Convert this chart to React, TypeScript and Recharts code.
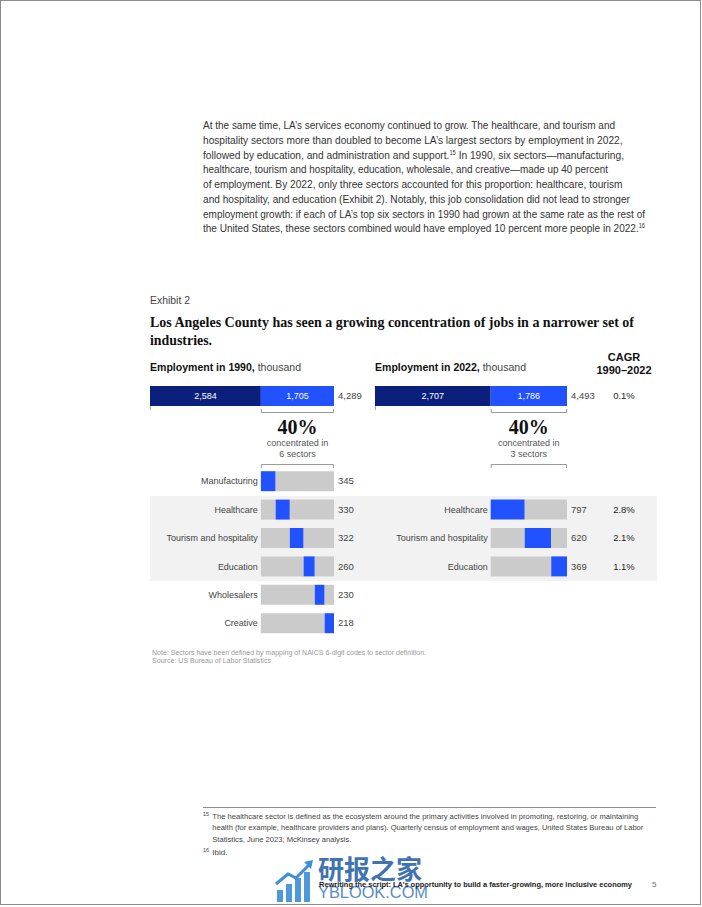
import React from 'react';
import { BarChart, Bar, XAxis, YAxis, LabelList, Cell } from 'recharts';

// ---------- data ----------
const sectors1990 = ['Manufacturing', 'Healthcare', 'Tourism and hospitality', 'Education', 'Wholesalers', 'Creative'];
const values1990 = [345, 330, 322, 260, 230, 218];
const rest1990 = 2584;
const top1990 = 1705;
const total1990 = 4289;

const sectors2022 = ['Healthcare', 'Tourism and hospitality', 'Education'];
const values2022 = [797, 620, 369];
const rest2022 = 2707;
const top2022 = 1786;
const total2022 = 4493;

const cagrTotal = '0.1%';
const cagr2022 = ['2.8%', '2.1%', '1.1%'];

const sharePct = '40%';
const sectorsCount1990 = '6 sectors';
const sectorsCount2022 = '3 sectors';

// ---------- style ----------
const SANS = '"Liberation Sans", Arial, sans-serif';
const SERIF = '"Liberation Serif", "Times New Roman", serif';
const NAVY = '#0b1f7d';
const BLUE = '#2251ff';
const GRAY = '#cbcbcb';
const BAND = '#f2f2f2';
const ROW_H = 28.4;
const CHART_TOP = 396 - ROW_H / 2;
const LEFT_X = 150;
const LEFT_W = 184;
const RIGHT_X = 375;
const RIGHT_W = 192;

const fmt = (n: number) => n.toLocaleString('en-US');

type Row = {
  k: string;
  name?: string;
  base: number;
  pre: number;
  val: number;
  post: number;
  baseLabel?: string;
  valLabel?: string;
  endLabel?: string;
  cagr?: string;
  total?: boolean;
};

function buildRows(
  rest: number,
  top: number,
  total: number,
  names: string[],
  values: number[],
  slots: (number | 'T' | null)[],
  cagrT?: string,
  cagrs?: string[]
): Row[] {
  const cum: number[] = [];
  let c = 0;
  values.forEach((v) => {
    cum.push(c);
    c += v;
  });
  return slots.map((s, i) => {
    if (s === 'T') {
      return {
        k: 'r' + i, base: rest, pre: 0, val: top, post: 0,
        baseLabel: fmt(rest), valLabel: fmt(top), endLabel: fmt(total), cagr: cagrT, total: true,
      };
    }
    if (s === null) return { k: 'r' + i, base: 0, pre: 0, val: 0, post: 0 };
    return {
      k: 'r' + i, name: names[s], base: rest, pre: cum[s], val: values[s],
      post: top - cum[s] - values[s], endLabel: String(values[s]), cagr: cagrs ? cagrs[s] : undefined,
    };
  });
}

const rows1990 = buildRows(rest1990, top1990, total1990, sectors1990, values1990, ['T', null, null, 0, 1, 2, 3, 4, 5]);
const rows2022 = buildRows(rest2022, top2022, total2022, sectors2022, values2022, ['T', null, null, null, 0, 1, 2, null, null], cagrTotal, cagr2022);

// the end label sits on the last non-empty segment of each row
const endOnVal = (d: Row) => (d.post === 0 && d.endLabel ? d.endLabel : '');
const endOnPost = (d: Row) => (d.post > 0 && d.endLabel ? d.endLabel : '');
const cagrOnVal = (d: Row) => (d.post === 0 && d.cagr ? d.cagr : '');
const cagrOnPost = (d: Row) => (d.post > 0 && d.cagr ? d.cagr : '');

// ---------- label renderers ----------
const num = (v: any) => Number(v) || 0;
const inBar = (p: any) => {
  if (!p.value) return null;
  return (
    <text x={num(p.x) + num(p.width) / 2} y={num(p.y) + num(p.height) / 2 + 3.2} textAnchor="middle" fill="#fff" fontSize={9} fontFamily={SANS}>
      {p.value}
    </text>
  );
};
const nameLabel = (p: any) => {
  if (!p.value) return null;
  return (
    <text x={num(p.x) + num(p.width) - 3} y={num(p.y) + num(p.height) / 2 + 3.2} textAnchor="end" fill="#444" fontSize={9} fontFamily={SANS}>
      {p.value}
    </text>
  );
};
const endLabel = (p: any) => {
  if (!p.value) return null;
  return (
    <text x={num(p.x) + num(p.width) + 4} y={num(p.y) + num(p.height) / 2 + 3.3} textAnchor="start" fill="#444" fontSize={9.5} fontFamily={SANS}>
      {p.value}
    </text>
  );
};
const cagrLabel = (p: any) => {
  if (!p.value) return null;
  return (
    <text x={num(p.x) + num(p.width) + 57} y={num(p.y) + num(p.height) / 2 + 3.3} textAnchor="middle" fill="#222" fontSize={9.5} fontFamily={SANS}>
      {p.value}
    </text>
  );
};

function Panel({ rows, total, plotW, rightPad }: { rows: Row[]; total: number; plotW: number; rightPad: number }) {
  return (
    <BarChart
      width={plotW + rightPad}
      height={ROW_H * rows.length}
      data={rows}
      layout="vertical"
      margin={{ top: 0, right: rightPad, bottom: 0, left: 0 }}
      barSize={20}
      barCategoryGap={0}
    >
      <XAxis type="number" domain={[0, total]} hide />
      <YAxis type="category" dataKey="k" hide />
      <Bar dataKey="base" stackId="s" isAnimationActive={false}>
        {rows.map((r, i) => (
          <Cell key={i} fill={r.total ? NAVY : 'rgba(0,0,0,0)'} />
        ))}
        <LabelList dataKey="baseLabel" content={inBar} />
        <LabelList dataKey="name" content={nameLabel} />
      </Bar>
      <Bar dataKey="pre" stackId="s" fill={GRAY} isAnimationActive={false} />
      <Bar dataKey="val" stackId="s" fill={BLUE} isAnimationActive={false}>
        <LabelList dataKey="valLabel" content={inBar} />
        <LabelList dataKey={endOnVal as any} content={endLabel} />
        <LabelList dataKey={cagrOnVal as any} content={cagrLabel} />
      </Bar>
      <Bar dataKey="post" stackId="s" fill={GRAY} isAnimationActive={false}>
        <LabelList dataKey={endOnPost as any} content={endLabel} />
        <LabelList dataKey={cagrOnPost as any} content={cagrLabel} />
      </Bar>
    </BarChart>
  );
}

// ---------- text helper ----------
const T = ({ x, y, size, children, fill = '#333', weight = 400, anchor = 'start', len, family = SANS }: any) => (
  <text
    x={x}
    y={y + size * 0.35}
    fontSize={size}
    fill={fill}
    fontWeight={weight}
    textAnchor={anchor}
    fontFamily={family}
    {...(len ? { textLength: len, lengthAdjust: 'spacingAndGlyphs' } : {})}
  >
    {children}
  </text>
);

const Sup = ({ t, size = 6.5 }: any) => (
  <tspan dy={-4} fontSize={size}>{t}</tspan>
);

export default function App() {
  const xs1 = LEFT_X + (rest1990 / total1990) * LEFT_W;
  const xe1 = LEFT_X + LEFT_W;
  const xs2 = RIGHT_X + (rest2022 / total2022) * RIGHT_W;
  const xe2 = RIGHT_X + RIGHT_W;
  const c1 = (xs1 + xe1) / 2;
  const c2 = (xs2 + xe2) / 2;
  const py = [125, 139.8, 154.5, 169.3, 184, 198.8, 213.5, 228.3];
  return (
    <div style={{ position: 'absolute', left: 0, top: 0, width: 702, height: 907, background: '#fff', overflow: 'hidden' }}>
      <div style={{ position: 'absolute', left: 0, top: 0, width: 701, height: 905, boxSizing: 'border-box', border: '1px solid #8c8c8c' }} />
      {/* highlighted band */}
      <div style={{ position: 'absolute', left: 150, top: 496, width: 507, height: 85, background: BAND }} />

      <svg width={702} height={907} style={{ position: 'absolute', left: 0, top: 0 }}>
        {/* paragraph */}
        <T x={203} y={py[0]} size={11.5} len={412}>At the same time, LA’s services economy continued to grow. The healthcare, and tourism and</T>
        <T x={203} y={py[1]} size={11.5} len={419.5}>hospitality sectors more than doubled to become LA’s largest sectors by employment in 2022,</T>
        <T x={203} y={py[2]} size={11.5} len={421}>
          followed by education, and administration and support.<Sup t="15" /><tspan dy={4}> In 1990, six sectors—manufacturing,</tspan>
        </T>
        <T x={203} y={py[3]} size={11.5} len={405}>healthcare, tourism and hospitality, education, wholesale, and creative—made up 40 percent</T>
        <T x={203} y={py[4]} size={11.5} len={419.5}>of employment. By 2022, only three sectors accounted for this proportion: healthcare, tourism</T>
        <T x={203} y={py[5]} size={11.5} len={427}>and hospitality, and education (Exhibit 2). Notably, this job consolidation did not lead to stronger</T>
        <T x={203} y={py[6]} size={11.5} len={442}>employment growth: if each of LA’s top six sectors in 1990 had grown at the same rate as the rest of</T>
        <T x={203} y={py[7]} size={11.5} len={442}>
          the United States, these sectors combined would have employed 10 percent more people in 2022.<Sup t="16" />
        </T>

        {/* exhibit title */}
        <T x={150} y={300} size={10} fill="#444" len={40}>Exhibit 2</T>
        <T x={150} y={322} size={15.5} fill="#111" weight={700} family={SERIF} len={484}>Los Angeles County has seen a growing concentration of jobs in a narrower set of</T>
        <T x={150} y={340} size={15.5} fill="#111" weight={700} family={SERIF} len={62}>industries.</T>

        {/* column headers */}
        <T x={150} y={367} size={10.5} fill="#111" len={151}>
          <tspan fontWeight={700}>Employment in 1990,</tspan><tspan fill="#444"> thousand</tspan>
        </T>
        <T x={375} y={367} size={10.5} fill="#111" len={151}>
          <tspan fontWeight={700}>Employment in 2022,</tspan><tspan fill="#444"> thousand</tspan>
        </T>
        <T x={624} y={357} size={11} fill="#111" weight={700} anchor="middle">CAGR</T>
        <T x={624} y={370} size={11} fill="#111" weight={700} anchor="middle">1990–2022</T>

        {/* small start ticks */}
        <line x1={LEFT_X + 0.5} x2={LEFT_X + 0.5} y1={406} y2={410} stroke="#aaa" />
        <line x1={RIGHT_X + 0.5} x2={RIGHT_X + 0.5} y1={406} y2={410} stroke="#aaa" />

        {/* brackets */}
        {[
          [xs1, xe1],
          [xs2, xe2],
        ].map(([a, b], i) => (
          <g key={i} stroke="#9a9a9a" strokeWidth={1} fill="none">
            <polyline points={`${a + 0.5},409 ${a + 0.5},412.5 ${b - 0.5},412.5 ${b - 0.5},409`} />
            <polyline points={`${a + 0.5},468 ${a + 0.5},464.5 ${b - 0.5},464.5 ${b - 0.5},468`} />
          </g>
        ))}
        <T x={c1} y={427} size={20} fill="#111" weight={700} family={SERIF} anchor="middle">{sharePct}</T>
        <T x={c1} y={442.5} size={9} fill="#555" anchor="middle">concentrated in</T>
        <T x={c1} y={453.5} size={9} fill="#555" anchor="middle">{sectorsCount1990}</T>
        <T x={c2} y={427} size={20} fill="#111" weight={700} family={SERIF} anchor="middle">{sharePct}</T>
        <T x={c2} y={442.5} size={9} fill="#555" anchor="middle">concentrated in</T>
        <T x={c2} y={453.5} size={9} fill="#555" anchor="middle">{sectorsCount2022}</T>

        {/* notes */}
        <T x={152} y={652.3} size={7} fill="#9a9a9a" len={274}>Note: Sectors have been defined by mapping of NAICS 6-digit codes to sector definition.</T>
        <T x={152} y={660.5} size={7} fill="#9a9a9a" len={119}>Source: US Bureau of Labor Statistics</T>

        {/* footnotes */}
        <line x1={203} x2={656} y1={807.5} y2={807.5} stroke="#8c8c8c" strokeWidth={1} />
        <T x={203} y={814} size={5.5} fill="#444">15</T>
        <T x={212.3} y={816} size={8} fill="#444" len={426}>The healthcare sector is defined as the ecosystem around the primary activities involved in promoting, restoring, or maintaining</T>
        <T x={212.3} y={827.5} size={8} fill="#444" len={431}>health (for example, healthcare providers and plans). Quarterly census of employment and wages, United States Bureau of Labor</T>
        <T x={212.3} y={839} size={8} fill="#444" len={139}>Statistics, June 2023; McKinsey analysis.</T>
        <T x={203} y={850} size={5.5} fill="#444">16</T>
        <T x={212.3} y={852} size={8} fill="#444">Ibid.</T>

        {/* watermark */}
        <g fill="#3d8fd6" opacity={0.9}>
          <rect x={277} y={890} width={6} height={12} />
          <rect x={286} y={884} width={6} height={18} />
          <rect x={295} y={878} width={6} height={24} />
          <rect x={304} y={872} width={6} height={30} />
        </g>
        <polyline points="276,884 288,874 296,878 311,863" stroke="#3d8fd6" strokeWidth={3} fill="none" />
        <polygon points="313,860 304,862 311,869" fill="#3d8fd6" />
        <text x={318} y={879} fontSize={26} fill="#2c64a8" fontWeight={700} fontFamily='"Noto Sans CJK SC", sans-serif' opacity={0.9}>研报之家</text>
        <text x={318} y={898} fontSize={17} fill="#3a78bd" fontFamily={SANS} opacity={0.85} textLength={110} lengthAdjust="spacingAndGlyphs">YBLOOK.COM</text>

        {/* footer */}
        <T x={319} y={884} size={8} fill="#222" weight={700} len={313}>Rewriting the script: LA’s opportunity to build a faster-growing, more inclusive economy</T>
        <T x={652} y={884} size={8} fill="#777">5</T>
      </svg>

      <div style={{ position: 'absolute', left: LEFT_X, top: CHART_TOP }}>
        <Panel rows={rows1990} total={total1990} plotW={LEFT_W} rightPad={45} />
      </div>
      <div style={{ position: 'absolute', left: RIGHT_X, top: CHART_TOP }}>
        <Panel rows={rows2022} total={total2022} plotW={RIGHT_W} rightPad={95} />
      </div>
    </div>
  );
}
